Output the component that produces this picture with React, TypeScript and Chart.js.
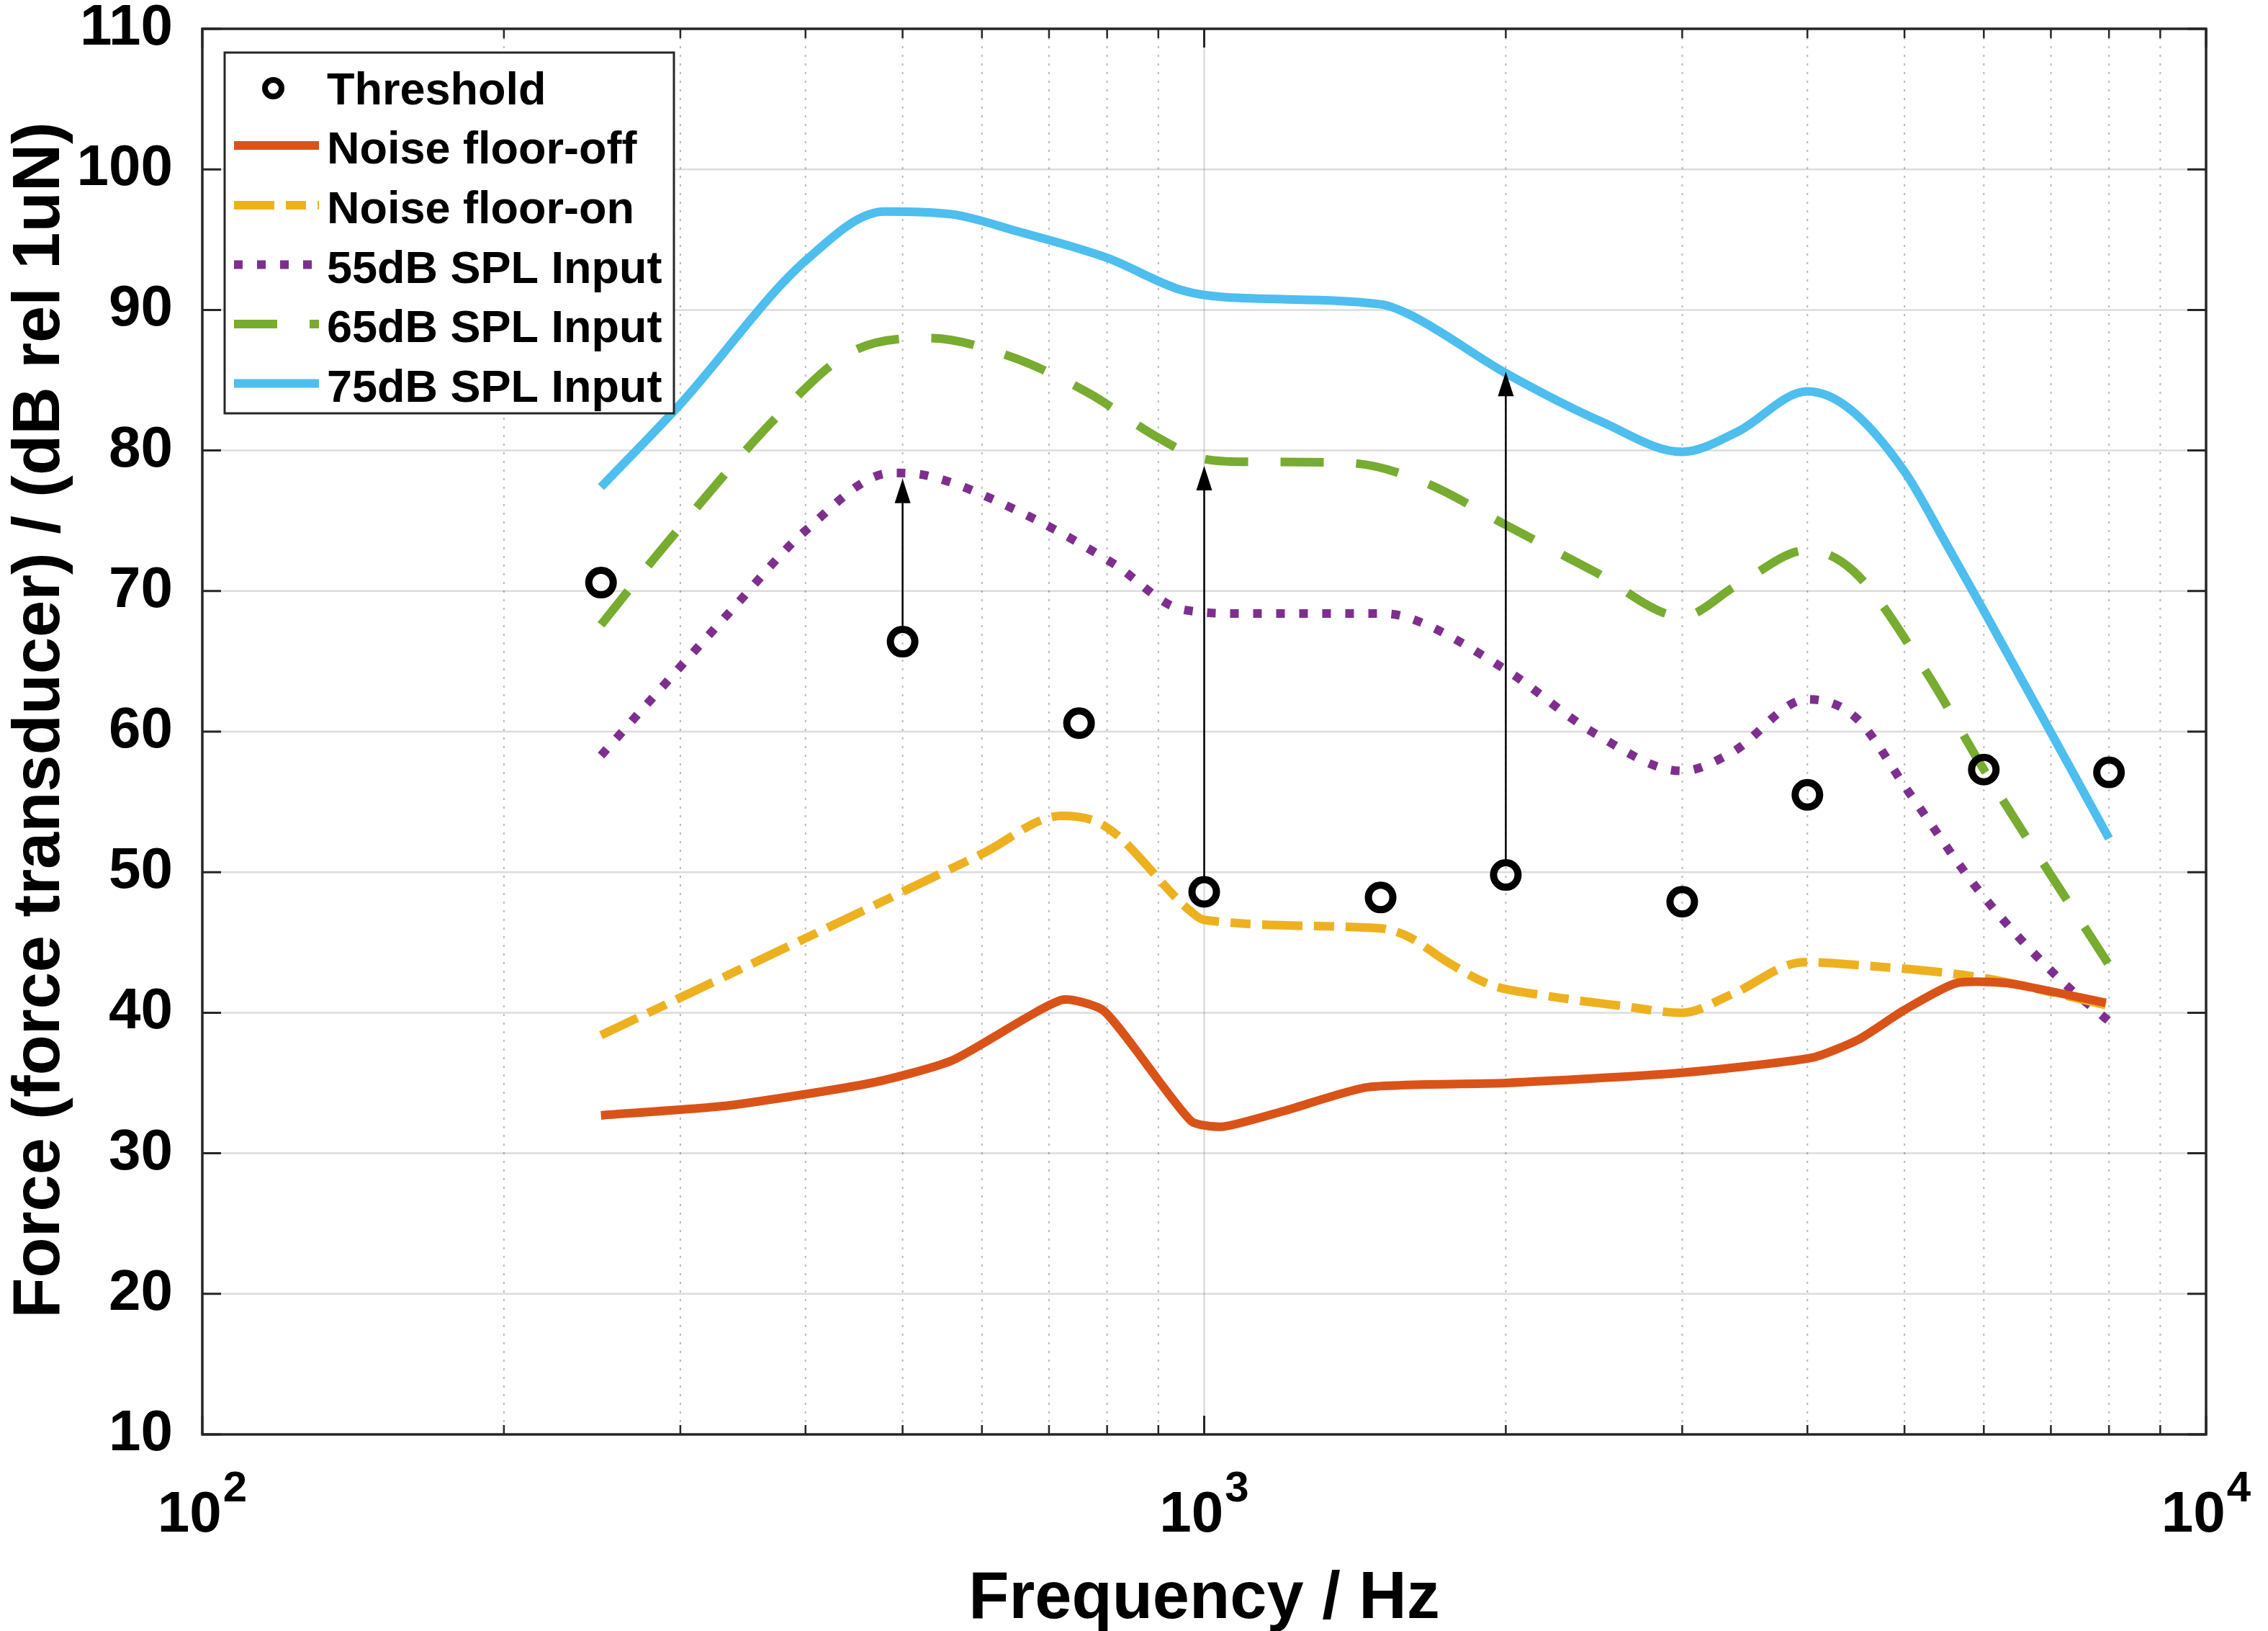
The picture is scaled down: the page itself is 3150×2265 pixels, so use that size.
import { useEffect, useRef } from 'react';
import { Chart, registerables } from 'chart.js';

Chart.register(...registerables);

const FONT = '"Liberation Sans", Arial, Helvetica, sans-serif';

// ---------- data ----------
const thresholdFreq = [250, 500, 750, 1000, 1500, 2000, 3000, 4000, 6000, 8000];
const thresholdLevel = [70.6, 66.4, 60.6, 48.6, 48.2, 49.8, 47.9, 55.5, 57.3, 57.1];

const floorOffFreq = [250, 335, 465, 560, 720, 795, 970, 1045, 1200, 1455, 2000, 2965, 4040, 4500, 5000, 5630, 6340, 7940];
const floorOffLevel = [32.7, 33.4, 35.0, 36.6, 40.9, 40.1, 32.3, 31.9, 33.0, 34.7, 35.0, 35.7, 36.8, 38.1, 40.2, 42.1, 42.1, 40.7];

const floorOnFreq = [250, 400, 500, 600, 720, 795, 970, 1000, 1500, 1600, 1750, 1930, 2200, 2600, 3000, 3360, 3970, 4470, 5960, 8000];
const floorOnLevel = [38.4, 45.3, 48.6, 51.3, 54.0, 53.3, 47.2, 46.6, 46.0, 45.4, 43.6, 42.0, 41.2, 40.5, 40.0, 41.3, 43.6, 43.4, 42.5, 40.5];

const spl55Freq = [250, 337, 400, 488, 530, 656, 810, 950, 1100, 1500, 1600, 2000, 2450, 3000, 3360, 4000, 4470, 5060, 5960, 7140, 8000];
const spl55Level = [58.3, 68.6, 74.3, 78.4, 78.2, 75.6, 72.0, 68.7, 68.4, 68.4, 68.1, 64.4, 59.9, 57.2, 58.5, 62.3, 61.0, 55.6, 48.5, 42.4, 39.4];

const spl65Freq = [250, 290, 383, 444, 530, 640, 766, 900, 1000, 1100, 1400, 1650, 2000, 2450, 3000, 3400, 4000, 4450, 5250, 6000, 8000];
const spl65Level = [67.6, 73.3, 83.1, 87.0, 88.0, 86.7, 84.1, 80.9, 79.4, 79.2, 79.1, 77.8, 74.7, 71.4, 68.2, 70.4, 72.9, 71.4, 64.3, 57.3, 43.4];

const spl75Freq = [250, 300, 400, 480, 560, 650, 800, 950, 1050, 1500, 1600, 2000, 2500, 3000, 3400, 4000, 4400, 5000, 5500, 6000, 8000];
const spl75Level = [77.4, 83.3, 93.5, 97.0, 96.8, 95.6, 93.7, 91.4, 90.9, 90.4, 89.7, 85.5, 82.0, 79.9, 81.3, 84.2, 83.0, 78.5, 73.4, 68.6, 52.4];

const arrowFreq = [500, 1000, 2000];
const arrowFrom = [67.1, 49.5, 50.8];
const arrowTo = [78.0, 78.9, 85.6];

const seriesLabels = ['Threshold', 'Noise floor-off', 'Noise floor-on', '55dB SPL Input', '65dB SPL Input', '75dB SPL Input'];

const yTickValues = [10, 20, 30, 40, 50, 60, 70, 80, 90, 100, 110];
const xMajorTicks = [100, 1000, 10000];
const xMajorExp = ['2', '3', '4'];
const xMinorTicks = [200, 300, 400, 500, 600, 700, 800, 900, 2000, 3000, 4000, 5000, 6000, 7000, 8000, 9000];

const xTitle = 'Frequency / Hz';
const yTitle = 'Force (force transducer) / (dB rel 1uN)';

const toPoints = (xs: number[], ys: number[]) => xs.map((x, i) => ({ x, y: ys[i] }));

const AXIS = '#262626';

const matlabAxes = {
  id: 'matlabAxes',
  beforeDatasetsDraw(chart: any) {
    const { ctx, chartArea: a, scales } = chart;
    const x = scales.x, y = scales.y;
    ctx.save();
    ctx.strokeStyle = 'rgba(38,38,38,0.16)';
    ctx.lineWidth = 2.5;
    ctx.setLineDash([]);
    for (const v of yTickValues) {
      const py = y.getPixelForValue(v);
      if (Math.abs(py - a.top) < 2 || Math.abs(py - a.bottom) < 2) continue;
      ctx.beginPath(); ctx.moveTo(a.left, py); ctx.lineTo(a.right, py); ctx.stroke();
    }
    for (const v of xMajorTicks) {
      const px = x.getPixelForValue(v);
      if (Math.abs(px - a.left) < 2 || Math.abs(px - a.right) < 2) continue;
      ctx.beginPath(); ctx.moveTo(px, a.top); ctx.lineTo(px, a.bottom); ctx.stroke();
    }
    ctx.strokeStyle = 'rgba(38,38,38,0.32)';
    ctx.lineWidth = 2;
    ctx.setLineDash([3, 9]);
    for (const v of xMinorTicks) {
      const px = x.getPixelForValue(v);
      ctx.beginPath(); ctx.moveTo(px, a.top); ctx.lineTo(px, a.bottom); ctx.stroke();
    }
    ctx.restore();
  },
  afterDatasetsDraw(chart: any) {
    const { ctx, chartArea: a, scales } = chart;
    const x = scales.x, y = scales.y;
    ctx.save();
    ctx.strokeStyle = '#000';
    ctx.fillStyle = '#000';
    ctx.lineWidth = 2.5;
    ctx.setLineDash([]);
    arrowFreq.forEach((f, i) => {
      const px = x.getPixelForValue(f);
      const y0 = y.getPixelForValue(arrowFrom[i]);
      const y1 = y.getPixelForValue(arrowTo[i]);
      const headL = 34, headW = 11;
      ctx.beginPath(); ctx.moveTo(px, y0); ctx.lineTo(px, y1 + headL - 2); ctx.stroke();
      ctx.beginPath();
      ctx.moveTo(px, y1);
      ctx.lineTo(px - headW, y1 + headL);
      ctx.lineTo(px + headW, y1 + headL);
      ctx.closePath();
      ctx.fill();
    });
    ctx.strokeStyle = AXIS;
    ctx.lineWidth = 3.5;
    ctx.strokeRect(a.left, a.top, a.right - a.left, a.bottom - a.top);
    ctx.lineWidth = 3;
    const major = 26, minor = 13;
    for (const v of yTickValues) {
      const py = y.getPixelForValue(v);
      ctx.beginPath();
      ctx.moveTo(a.left, py); ctx.lineTo(a.left + major, py);
      ctx.moveTo(a.right, py); ctx.lineTo(a.right - major, py);
      ctx.stroke();
    }
    for (const v of xMajorTicks) {
      const px = x.getPixelForValue(v);
      ctx.beginPath();
      ctx.moveTo(px, a.bottom); ctx.lineTo(px, a.bottom - major);
      ctx.moveTo(px, a.top); ctx.lineTo(px, a.top + major);
      ctx.stroke();
    }
    ctx.lineWidth = 2.5;
    for (const v of xMinorTicks) {
      const px = x.getPixelForValue(v);
      ctx.beginPath();
      ctx.moveTo(px, a.bottom); ctx.lineTo(px, a.bottom - minor);
      ctx.moveTo(px, a.top); ctx.lineTo(px, a.top + minor);
      ctx.stroke();
    }
    ctx.restore();
  },
  afterDraw(chart: any) {
    const { ctx, chartArea: a, scales } = chart;
    const x = scales.x;
    ctx.save();
    ctx.fillStyle = '#000';
    ctx.textBaseline = 'alphabetic';
    ctx.textAlign = 'left';
    xMajorTicks.forEach((v, i) => {
      const px = x.getPixelForValue(v);
      ctx.font = `bold 80px ${FONT}`;
      const w1 = ctx.measureText('10').width;
      ctx.font = `bold 60px ${FONT}`;
      const w2 = ctx.measureText(xMajorExp[i]).width;
      const start = px - (w1 + w2 + 2) / 2;
      ctx.font = `bold 80px ${FONT}`;
      ctx.fillText('10', start, 2127);
      ctx.font = `bold 60px ${FONT}`;
      ctx.fillText(xMajorExp[i], start + w1 + 2, 2085);
    });
    ctx.font = `bold 92px ${FONT}`;
    ctx.textAlign = 'center';
    ctx.fillText(xTitle, (a.left + a.right) / 2, 2247);
    ctx.save();
    ctx.translate(82, 1000);
    ctx.rotate(-Math.PI / 2);
    ctx.textAlign = 'center';
    ctx.fillText(yTitle, 0, 0);
    ctx.restore();

    // legend
    const lx = 312, ly = 73, lw = 624, lh = 501;
    ctx.fillStyle = '#fff';
    ctx.fillRect(lx, ly, lw, lh);
    ctx.strokeStyle = AXIS;
    ctx.lineWidth = 3;
    ctx.setLineDash([]);
    ctx.strokeRect(lx, ly, lw, lh);
    const rowC = [122.5, 205, 288, 370.5, 453, 535.5];
    const ds = chart.data.datasets;
    ds.forEach((d: any, i: number) => {
      const cy = rowC[i];
      ctx.save();
      if (i === 0) {
        ctx.strokeStyle = '#000';
        ctx.lineWidth = 8;
        ctx.beginPath();
        ctx.arc(379.5, cy, 11.5, 0, Math.PI * 2);
        ctx.stroke();
      } else {
        ctx.strokeStyle = d.borderColor;
        ctx.lineWidth = 12;
        ctx.lineCap = 'butt';
        ctx.setLineDash(d.borderDash || []);
        ctx.beginPath();
        ctx.moveTo(325, cy - 3);
        ctx.lineTo(443, cy - 3);
        ctx.stroke();
      }
      ctx.restore();
      ctx.fillStyle = '#000';
      ctx.font = `bold 63px ${FONT}`;
      ctx.textAlign = 'left';
      ctx.fillText(d.label, 454, cy + 22);
    });
    ctx.restore();
  },
};

export default function App() {
  const ref = useRef<HTMLCanvasElement>(null);
  useEffect(() => {
    document.body.style.margin = '0';
    const lineBase = {
      showLine: true,
      pointRadius: 0,
      borderWidth: 12,
      cubicInterpolationMode: 'monotone' as const,
      borderCapStyle: 'butt' as const,
      fill: false,
    };
    const chart = new Chart(ref.current!, {
      type: 'line',
      data: {
        datasets: [
          {
            label: seriesLabels[0],
            data: toPoints(thresholdFreq, thresholdLevel),
            showLine: false,
            pointStyle: 'circle',
            pointRadius: 17,
            pointBorderWidth: 10,
            pointBorderColor: '#000',
            pointBackgroundColor: 'rgba(0,0,0,0)',
            borderColor: '#000',
          },
          {
            ...lineBase,
            label: seriesLabels[1],
            data: toPoints(floorOffFreq, floorOffLevel),
            borderColor: '#D95319',
            cubicInterpolationMode: 'default',
            tension: 0.2,
          },
          { ...lineBase, label: seriesLabels[2], data: toPoints(floorOnFreq, floorOnLevel), borderColor: '#EDB120', borderDash: [56, 16, 28, 16] },
          { ...lineBase, label: seriesLabels[3], data: toPoints(spl55Freq, spl55Level), borderColor: '#7E2F8E', borderDash: [12, 20] },
          { ...lineBase, label: seriesLabels[4], data: toPoints(spl65Freq, spl65Level), borderColor: '#77AC30', borderDash: [60, 45] },
          { ...lineBase, label: seriesLabels[5], data: toPoints(spl75Freq, spl75Level), borderColor: '#4DBEEE' },
        ],
      } as any,
      options: {
        animation: false,
        responsive: false,
        maintainAspectRatio: false,
        layout: { padding: { top: 40, right: 86, left: 0, bottom: 0 } },
        plugins: { legend: { display: false }, tooltip: { enabled: false } },
        scales: {
          x: {
            type: 'logarithmic',
            min: 100,
            max: 10000,
            grid: { display: false },
            border: { display: false },
            ticks: { display: false },
            afterFit: (s: any) => { s.height = 273; s.paddingLeft = 0; s.paddingRight = 0; },
          },
          y: {
            min: 10,
            max: 110,
            grid: { display: false },
            border: { display: false },
            ticks: {
              stepSize: 10,
              color: '#000',
              padding: 33,
              font: { family: FONT, size: 80, weight: 'bold', lineHeight: 1 },
            },
            afterFit: (s: any) => { s.width = 281; s.paddingTop = 0; s.paddingBottom = 0; },
          },
        },
      } as any,
      plugins: [matlabAxes as any],
    });
    return () => chart.destroy();
  }, []);
  return (
    <div style={{ width: 3150, height: 2265, background: '#fff', overflow: 'hidden' }}>
      <canvas ref={ref} width={3150} height={2265} style={{ display: 'block', width: 3150, height: 2265 }} />
    </div>
  );
}
